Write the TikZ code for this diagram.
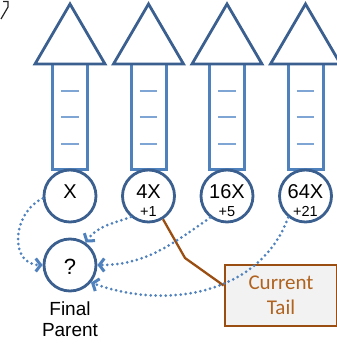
\documentclass[tikz,border=0pt]{standalone}
\usepackage{fontspec}
\setmainfont{Liberation Sans}
\newfontfamily\tailfont{Carlito}
\usetikzlibrary{arrows.meta}
\definecolor{edgeblue}{HTML}{3B6090}
\definecolor{shaftblue}{HTML}{4F81BD}
\definecolor{tickblue}{HTML}{7FA5D5}
\definecolor{dotblue}{HTML}{4F81BD}
\definecolor{tailbrown}{HTML}{9A4E12}
\definecolor{tailtext}{HTML}{B0631F}
\definecolor{tailfill}{HTML}{F2F2F2}
% one bucket: shaft, three marks, head
\def\bucket(#1){%
	\draw[shaftblue,line width=3pt,fill=white] (#1-17.5,-64) rectangle (#1+17.5,-170);
	\draw[tickblue,line width=1.6pt] (#1-9,-91) -- (#1+8.5,-91) (#1-9,-117) -- (#1+8.5,-117) (#1-9,-144) -- (#1+8.5,-144);
	\draw[edgeblue,line width=2.8pt,fill=white] (#1-35,-64) -- (#1,-4) -- (#1+35,-64) -- cycle;}
\tikzset{
	ring/.style={circle,draw=edgeblue,line width=2.8pt,fill=white,minimum size=52pt,inner sep=0pt},
	big/.style={inner sep=0pt,font=\fontsize{20}{22}\selectfont},
	small/.style={inner sep=0pt,font=\fontsize{14.5}{15}\selectfont},
	dotarrow/.style={dotblue,line width=3pt,line cap=round,dash pattern=on 0pt off 5pt,-{Straight Barb[length=5pt,width=13pt]}},
}

\begin{document}
\begin{tikzpicture}[x=1pt,y=1pt]
			%%%%% START %%%%%
			\def\xone{70}
			\def\xtwo{148.5}
			\def\xthree{227}
			\def\xfour{305.5}
			\def\yring{-196}
			\def\ylab{-191.5}
			\def\ysub{-211.5}
			\def\yq{-265}

			\useasboundingbox (0,0) rectangle (336,-344);
			\draw[line width=1.2pt,black!85] (3,-1.5) -- (8,-1.5) -- (8,-7) -- (1,-19);

			\bucket(\xone)
			\bucket(\xtwo)
			\bucket(\xthree)
			\bucket(\xfour)

			\node[ring] (r1) at (\xone,\yring) {};
			\node[big] (l1) at (\xone,\ylab) {X};
			\node[ring] (r2) at (\xtwo,\yring) {};
			\node[big] (l2) at (\xtwo,\ylab) {4X};
			\node[small] (s2) at (\xtwo,\ysub) {+1};
			\node[ring] (r3) at (\xthree,\yring) {};
			\node[big] (l3) at (\xthree,\ylab) {16X};
			\node[small] (s3) at (\xthree,\ysub) {+5};
			\node[ring] (r4) at (\xfour,\yring) {};
			\node[big] (l4) at (\xfour,\ylab) {64X};
			\node[small] (s4) at (\xfour,\ysub) {+21};

			\node[ring] (fp) at (\xone,\yq) {};
			\node[inner sep=0pt,font=\fontsize{22}{22}\selectfont] (qm) at (\xone,\yq-2) {?};
			\node[inner sep=0pt,align=center,font=\fontsize{19}{21.5}\selectfont] (fpname) at (\xone,-319) {Final\\Parent};

			\node[draw=tailbrown,line width=2.8pt,fill=tailfill,text=tailtext,minimum width=112pt,minimum height=61pt,align=center,font=\tailfont\fontsize{21}{25}\selectfont] (tail) at (281,-295.5) {Current\\Tail};
			\coordinate (kink) at (185,-258);
			\draw[tailbrown,line width=2.3pt] (r2.302) -- (kink) -- ([yshift=10pt]tail.west);

			\draw[dotarrow] (r1.185) to[out=205,in=180,looseness=1.3] (fp.west);
			\draw[dotarrow] (r2.230) to[out=200,in=55] (fp.55);
			\draw[dotarrow] (r3.232) to[out=215,in=0] (fp.east);
			\draw[dotarrow] (r4.231) to[out=250,in=340] (fp.320);
			%%%%% END %%%%%
\end{tikzpicture}
\end{document}
